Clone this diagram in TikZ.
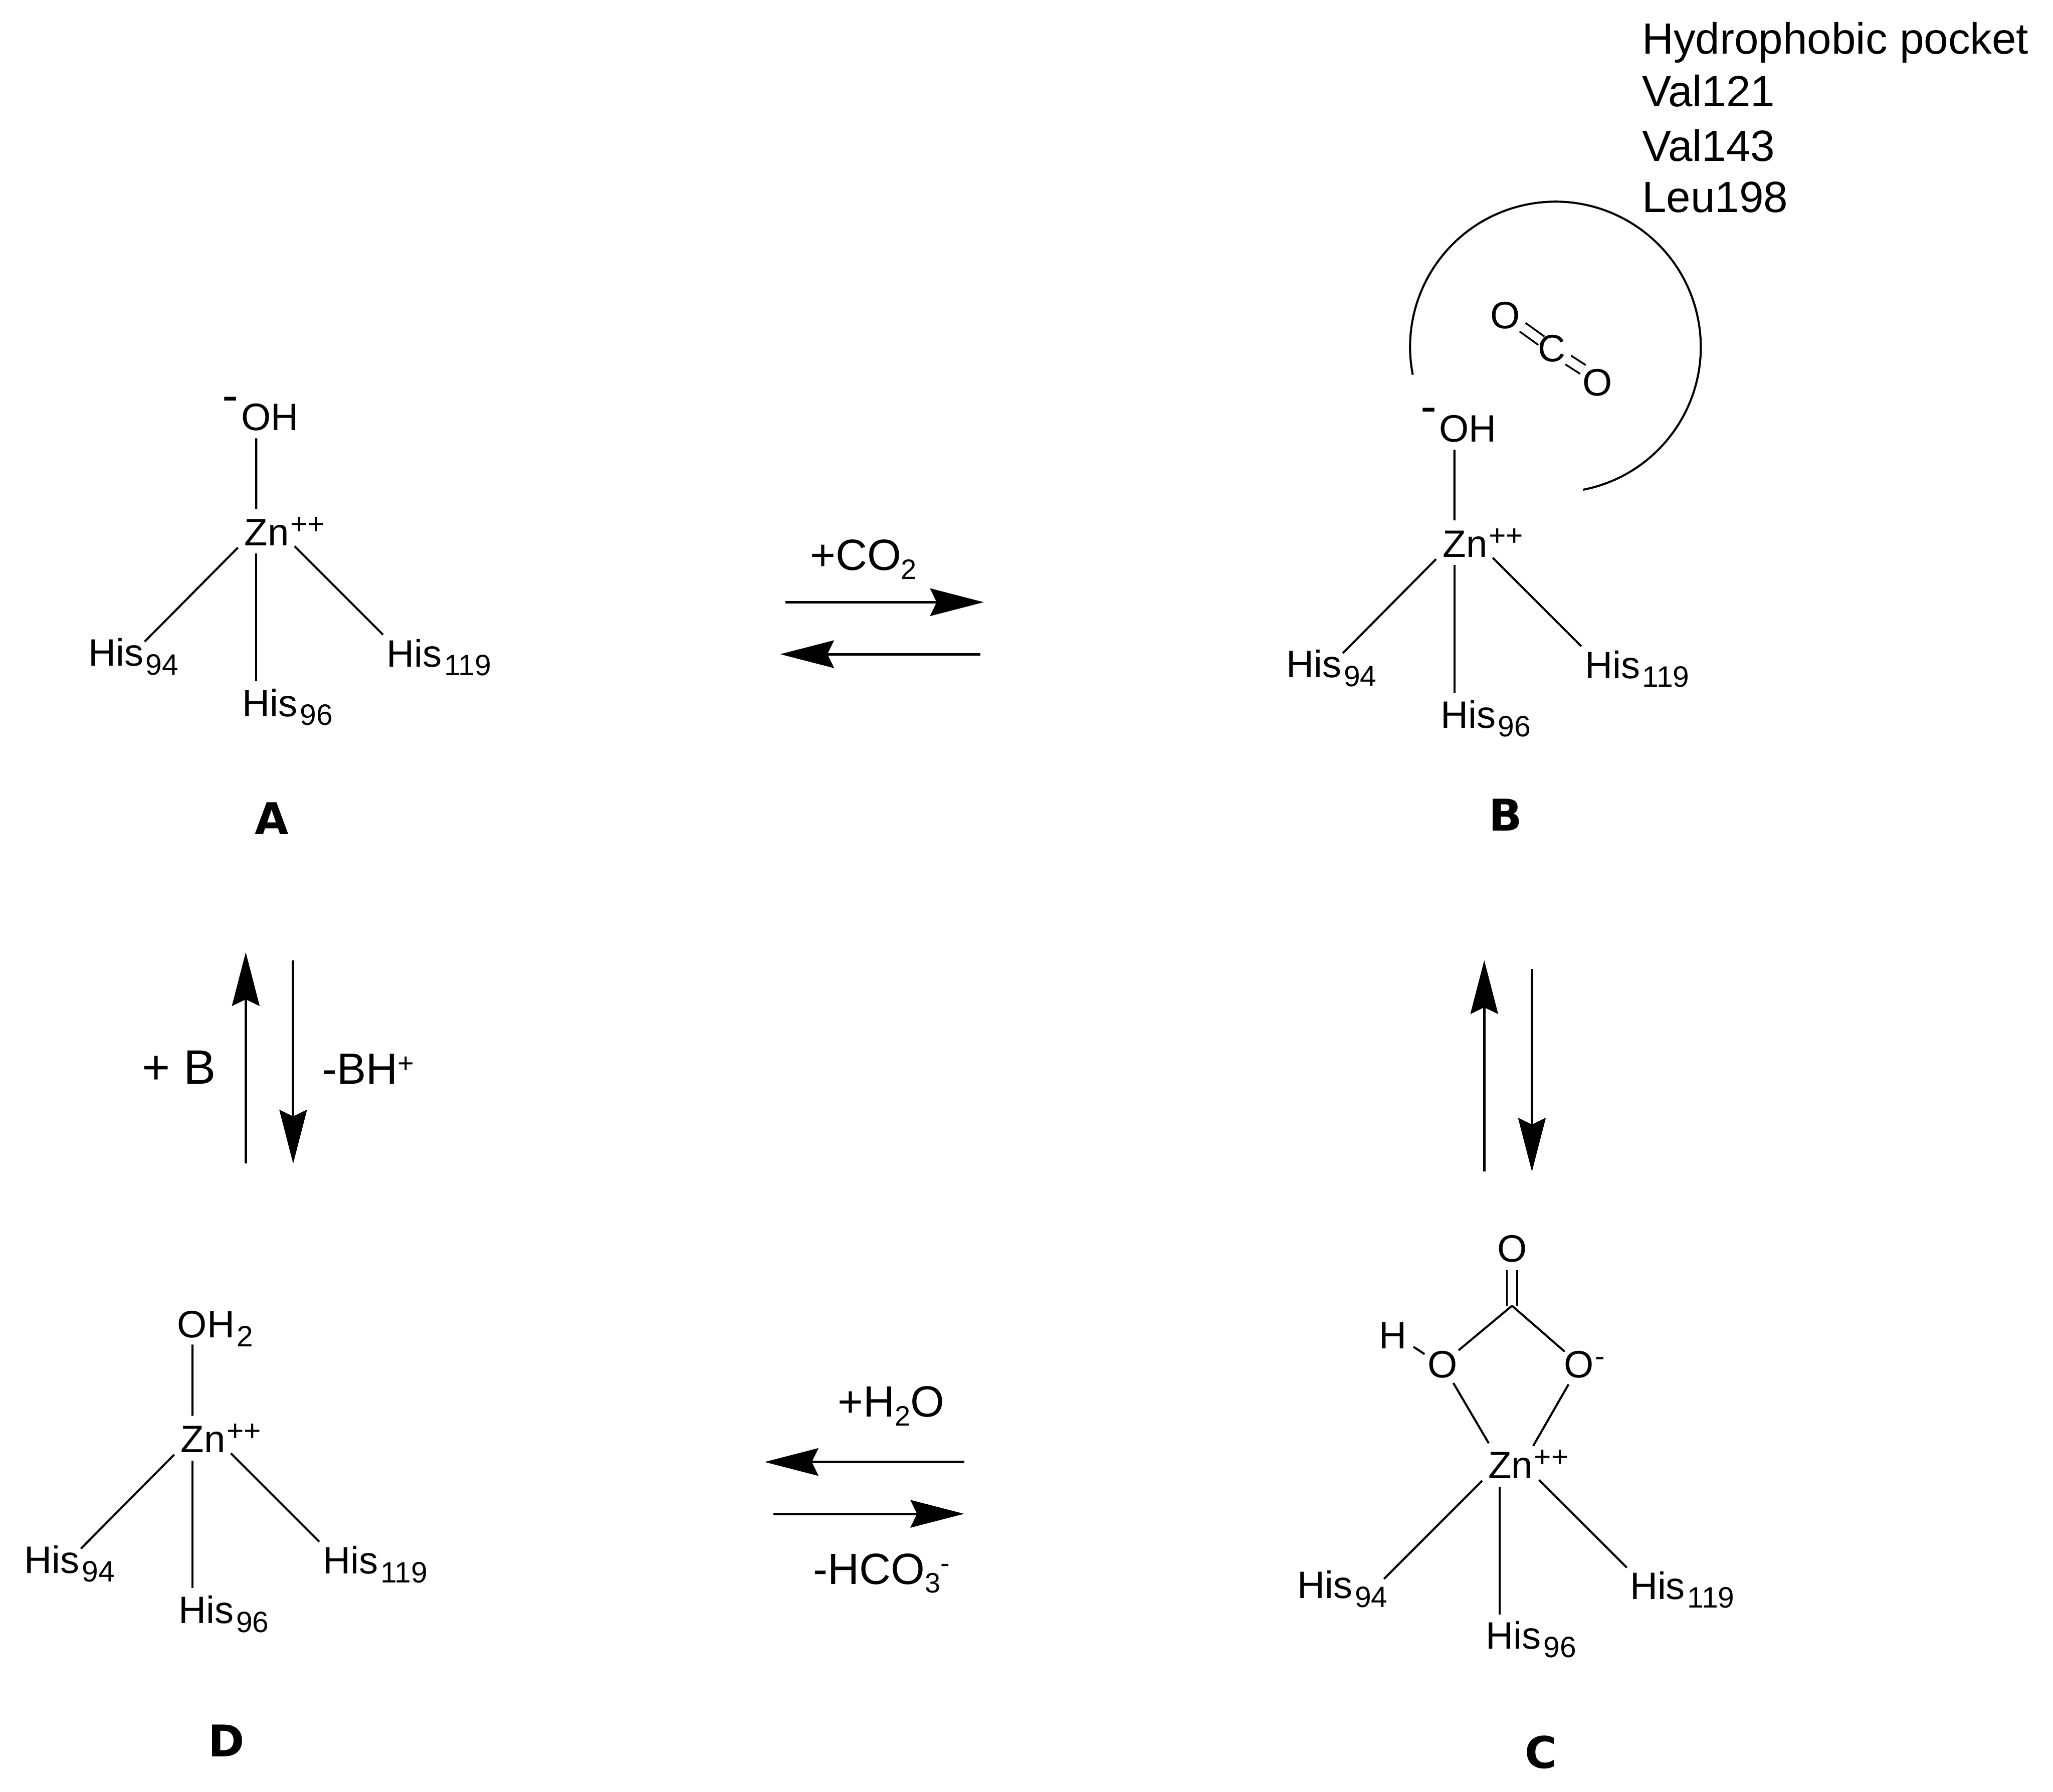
\documentclass[tikz,border=0pt]{standalone}
\usepackage{fontspec}
\setmainfont{Liberation Sans}
\newfontfamily\stagefont{DejaVu Sans}
\usepackage{tikz}
\usetikzlibrary{arrows.meta}

\newcommand{\lownum}[1]{\kern.5pt\raisebox{-1.9pt}{\fontsize{6.4}{7}\selectfont #1}}
\newcommand{\highchg}[1]{\kern.3pt\raisebox{2.5pt}{\fontsize{6.4}{7}\selectfont #1}}
\newcommand{\notenum}[1]{\raisebox{-1.9pt}{\fontsize{6.1}{7}\selectfont #1}}
\newcommand{\notechg}[1]{\raisebox{2.5pt}{\fontsize{6.1}{7}\selectfont #1}}
\newcommand{\minusleft}{\llap{\raisebox{4.1pt}{\fontsize{10.5}{11}\selectfont -}\kern.6pt}}

\tikzset{
	atom/.style={inner xsep=.05cm, inner ysep=.055cm, font=\fontsize{8.3}{10}\selectfont},
	hislabel/.style={inner sep=0pt, anchor=base west, font=\fontsize{8.3}{10}\selectfont},
	note/.style={inner sep=0pt, anchor=base west, font=\fontsize{9.5}{11}\selectfont},
	stagelabel/.style={inner sep=0pt, font=\fontsize{9.5}{11}\selectfont\stagefont\bfseries},
	bond/.style={line width=.45pt},
	dbond/.style={line width=.4pt, double, double distance=.065cm},
	rxn/.style={line width=.55pt, -{Stealth[length=.41cm, width=.21cm, inset=.05cm]}}
}

\begin{document}
\begin{tikzpicture}
	\useasboundingbox (0,0) rectangle (15.68,13.682);

	% A
	\node[atom] (aZn) at (1.957,9.625) {Z\rlap{n\highchg{++}}};
	\node[hislabel] (aOH) at (1.835,10.395) {\minusleft OH};
	\node[hislabel] (aHis94) at (.667,8.596) {His\lownum{94}};
	\node[hislabel] (aHis96) at (1.845,8.21) {His\lownum{96}};
	\node[hislabel] (aHis119) at (2.947,8.59) {His\lownum{119}};
	\node[stagelabel] (lblA) at (2.077,7.43) {A};
	\draw[bond] (aZn.north) -- ([shift={(.122,-.06)}]aOH.base west);
	\draw[bond] ([shift={(-.14,-.125)}]aZn.center) -- ([shift={(.438,.186)}]aHis94.base west);
	\draw[bond] (aZn.south) -- ([shift={(.112,.27)}]aHis96.base west);
	\draw[bond] ([shift={(.293,-.115)}]aZn.center) -- ([shift={(-.022,.245)}]aHis119.base west);

	% B
	\node[atom] (bZn) at (11.108,9.537) {Z\rlap{n\highchg{++}}};
	\node[hislabel] (bOH) at (10.986,10.307) {\minusleft OH};
	\node[hislabel] (bHis94) at (9.818,8.508) {His\lownum{94}};
	\node[hislabel] (bHis96) at (10.996,8.122) {His\lownum{96}};
	\node[hislabel] (bHis119) at (12.098,8.502) {His\lownum{119}};
	\node[stagelabel] (lblB) at (11.5,7.46) {B};
	\draw[bond] (bZn.north) -- ([shift={(.122,-.06)}]bOH.base west);
	\draw[bond] ([shift={(-.14,-.125)}]bZn.center) -- ([shift={(.438,.186)}]bHis94.base west);
	\draw[bond] (bZn.south) -- ([shift={(.112,.27)}]bHis96.base west);
	\draw[bond] ([shift={(.293,-.115)}]bZn.center) -- ([shift={(-.022,.245)}]bHis119.base west);

	% pocket with CO2
	\draw[bond] (10.79,10.82) arc[start angle=191, end angle=-79, radius=1.11];
	\node[atom] (bO1) at (11.497,11.273) {O};
	\node[atom] (bC) at (11.853,11.02) {C};
	\node[atom] (bO2) at (12.2,10.762) {O};
	\draw[dbond] ([shift={(.132,-.09)}]bO1.center) -- ([shift={(-.081,.06)}]bC.center);
	\draw[dbond] ([shift={(.124,-.087)}]bC.center) -- ([shift={(-.11,.098)}]bO2.center);
	\node[note] (pocket) at (12.535,13.27) {Hydrophobic pocket};
	\node[note] (val121) at (12.535,12.87) {Val121};
	\node[note] (val143) at (12.535,12.45) {Val143};
	\node[note] (leu198) at (12.535,12.06) {Leu198};

	% C
	\node[atom] (cZn) at (11.455,2.5) {Z\rlap{n\highchg{++}}};
	\node[atom] (cOtop) at (11.548,4.147) {O};
	\node[atom] (cOH) at (11.016,3.262) {O};
	\node[atom] (cOm) at (12.06,3.262) {O\rlap{\highchg{-}}};
	\node[atom] (cH) at (10.64,3.484) {H};
	\coordinate (cC) at (11.548,3.71);
	\node[hislabel] (cHis94) at (9.902,1.475) {His\lownum{94}};
	\node[hislabel] (cHis96) at (11.343,1.09) {His\lownum{96}};
	\node[hislabel] (cHis119) at (12.442,1.47) {His\lownum{119}};
	\node[stagelabel] (lblC) at (11.77,.3) {C};
	\draw[dbond] (cC) -- (cOtop.south);
	\draw[bond] (cC) -- ([shift={(.124,.108)}]cOH.center);
	\draw[bond] (cC) -- ([shift={(-.11,.098)}]cOm.center);
	\draw[bond] ([shift={(.155,-.087)}]cH.center) -- ([shift={(-.136,.079)}]cOH.center);
	\draw[bond] ([shift={(.084,-.142)}]cOH.center) -- ([shift={(-.085,.16)}]cZn.center);
	\draw[bond] ([shift={(-.08,-.152)}]cOm.center) -- ([shift={(.255,.14)}]cZn.center);
	\draw[bond] ([shift={(-.135,-.126)}]cZn.center) -- ([shift={(.668,.149)}]cHis94.base west);
	\draw[bond] (cZn.south) -- ([shift={(.112,.263)}]cHis96.base west);
	\draw[bond] ([shift={(.3,-.12)}]cZn.center) -- ([shift={(-.017,.24)}]cHis119.base west);

	% D
	\node[atom] (dZn) at (1.47,2.698) {Z\rlap{n\highchg{++}}};
	\node[hislabel] (dOH) at (1.348,3.466) {OH\lownum{2}};
	\node[hislabel] (dHis94) at (.18,1.669) {His\lownum{94}};
	\node[hislabel] (dHis96) at (1.358,1.283) {His\lownum{96}};
	\node[hislabel] (dHis119) at (2.46,1.663) {His\lownum{119}};
	\node[stagelabel] (lblD) at (1.728,.39) {D};
	\draw[bond] (dZn.north) -- ([shift={(.122,-.052)}]dOH.base west);
	\draw[bond] ([shift={(-.14,-.125)}]dZn.center) -- ([shift={(.438,.186)}]dHis94.base west);
	\draw[bond] (dZn.south) -- ([shift={(.112,.27)}]dHis96.base west);
	\draw[bond] ([shift={(.293,-.115)}]dZn.center) -- ([shift={(-.022,.245)}]dHis119.base west);

	% equilibrium arrows
	\coordinate (abS) at (6,9.083); \coordinate (abE) at (7.514,9.083);
	\coordinate (baS) at (7.489,8.686); \coordinate (baE) at (5.959,8.686);
	\coordinate (daS) at (1.877,4.796); \coordinate (daE) at (1.877,6.41);
	\coordinate (adS) at (2.239,6.348); \coordinate (adE) at (2.239,4.796);
	\coordinate (cbS) at (11.336,4.734); \coordinate (cbE) at (11.336,6.349);
	\coordinate (bcS) at (11.7,6.284); \coordinate (bcE) at (11.7,4.734);
	\coordinate (cdS) at (7.364,2.517); \coordinate (cdE) at (5.84,2.517);
	\coordinate (dcS) at (5.905,2.121); \coordinate (dcE) at (7.364,2.121);
	\draw[rxn] (abS) -- (abE);
	\draw[rxn] (baS) -- (baE);
	\draw[rxn] (daS) -- (daE);
	\draw[rxn] (adS) -- (adE);
	\draw[rxn] (cbS) -- (cbE);
	\draw[rxn] (bcS) -- (bcE);
	\draw[rxn] (cdS) -- (cdE);
	\draw[rxn] (dcS) -- (dcE);

	\node[note] (addCO) at (6.18,9.327) {+CO\notenum{2}};
	\node[note] (addH) at (6.393,2.861) {+H\notenum{2}O};
	\node[note] (lossHCO) at (6.205,1.585) {-HCO\notenum{3}\notechg{-}};
	\node[note, font=\fontsize{10.5}{12}\selectfont] (addB) at (1.08,5.405) {+ B};
	\node[note] (lossBH) at (2.455,5.402) {-BH\notechg{+}};
\end{tikzpicture}
\end{document}
